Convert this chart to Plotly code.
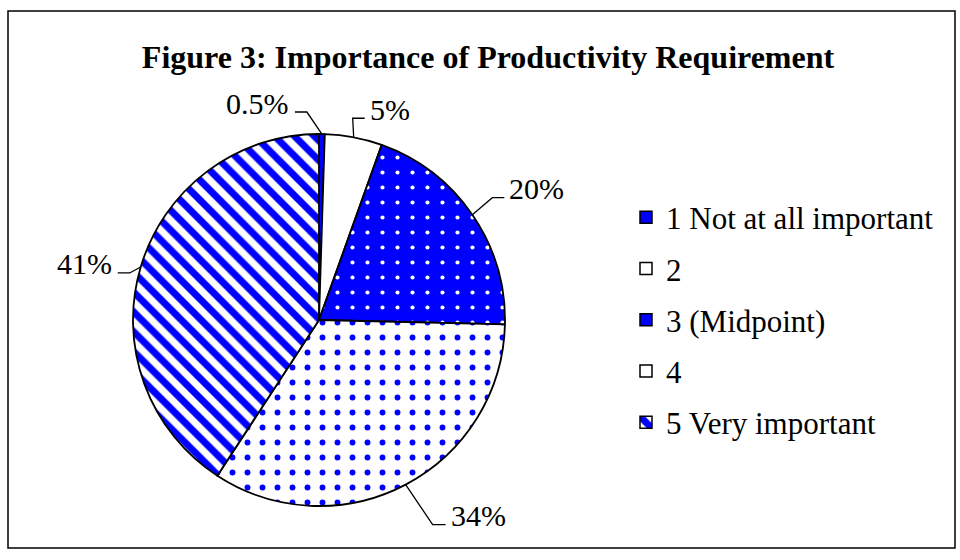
import math
import plotly.graph_objects as go

# ---- data ----
labels = ["1 Not at all important", "2", "3 (Midpoint)", "4", "5 Very important"]
values = [0.5, 5, 20, 34, 41]
pct_text = ["0.5%", "5%", "20%", "34%", "41%"]
title_text = "Figure 3: Importance of Productivity Requirement"

# ---- styles ----
W, H = 960, 560
CX, CY, R = 319, 320, 186
BLUE = "#0000FF"
fill_colors = [BLUE, "#FFFFFF", BLUE, "#FFFFFF", "#FFFFFF"]
pat_shapes = ["", "", ".", ".", "\\"]
pat_fg = [BLUE, "#FFFFFF", "#FFFFFF", BLUE, BLUE]
pat_size = [8, 8, 15, 15, 14]
pat_sol = [0.3, 0.3, 0.06, 0.12, 0.5]
# leader elbow offsets from slice edge point (px) and horizontal tail length
leader_style = [(-15, -22, -12), (-1, -19, 12), (20, -17, 12), (27, 40, 13), (-11, 6, -12)]
FONT = "Liberation Serif"


def px(x, y):
    return x / W, 1 - y / H


def pattern(idx):
    return dict(shape=[pat_shapes[i] for i in idx], fgcolor=[pat_fg[i] for i in idx],
                size=[pat_size[i] for i in idx], solidity=[pat_sol[i] for i in idx],
                fillmode="overlay", fgopacity=1)


fig = go.Figure()

# legend-only helper traces (one per category, zero-size pies) so entries can be spaced
for i, lab in enumerate(labels):
    fig.add_trace(go.Pie(
        labels=[lab], values=[values[i]], sort=False,
        marker=dict(colors=[fill_colors[i]], line=dict(color="black", width=1.5),
                    pattern=pattern([i])),
        textinfo="none", hoverinfo="skip", legendgroup=f"g{i}", showlegend=True,
        domain=dict(x=[CX / W, CX / W + 1e-6], y=[1 - CY / H, 1 - CY / H + 1e-6]),
    ))

x0, y1 = px(CX - R, CY - R)
x1, y0 = px(CX + R, CY + R)
fig.add_trace(go.Pie(
    labels=labels, values=values, sort=False, direction="clockwise", rotation=0,
    marker=dict(colors=fill_colors, line=dict(color="black", width=1.8),
                pattern=pattern(range(len(values)))),
    textinfo="none", showlegend=False,
    domain=dict(x=[x0, x1], y=[y0, y1]),
))

# labels with leader lines
total = sum(values)
cum = 0.0
shapes = []
annotations = []
for i, v in enumerate(values):
    mid = (cum + v / 2) / total * 2 * math.pi
    cum += v
    ex, ey = CX + R * math.sin(mid), CY - R * math.cos(mid)
    dx, dy, hl = leader_style[i]
    bx, by = ex + dx, ey + dy
    tx = bx + hl
    p = [px(ex, ey), px(bx, by), px(tx, by)]
    path = "M{:.5f},{:.5f} L{:.5f},{:.5f} L{:.5f},{:.5f}".format(*p[0], *p[1], *p[2])
    shapes.append(dict(type="path", xref="paper", yref="paper", path=path,
                       line=dict(color="black", width=1.3)))
    ax, ay = px(tx + (3 if hl > 0 else -4), by - 9)
    annotations.append(dict(xref="paper", yref="paper", x=ax, y=ay, text=pct_text[i],
                            showarrow=False, xanchor="left" if hl > 0 else "right",
                            yanchor="middle", font=dict(family=FONT, size=30, color="black")))

# outer frame
fx0, fy1 = px(8, 11)
fx1, fy0 = px(955, 548)
shapes.append(dict(type="rect", xref="paper", yref="paper", x0=fx0, y0=fy0, x1=fx1, y1=fy1,
                   line=dict(color="black", width=1.5)))

tx, ty = px(488, 57)
fig.update_layout(
    width=W, height=H,
    margin=dict(l=0, r=0, t=0, b=0),
    paper_bgcolor="white", plot_bgcolor="white",
    title=dict(text=f"<b>{title_text}</b>", x=tx, y=ty, xanchor="center", yanchor="middle",
               font=dict(family=FONT, size=32, color="black")),
    legend=dict(x=626 / W, y=px(0, 320)[1], xanchor="left", yanchor="middle",
                font=dict(family=FONT, size=31, color="black"),
                tracegroupgap=8, itemwidth=30, bgcolor="rgba(0,0,0,0)"),
    shapes=shapes, annotations=annotations,
)

fig.write_html("out.html", config={"displayModeBar": False},
               post_script="document.body.style.margin='0px';")
